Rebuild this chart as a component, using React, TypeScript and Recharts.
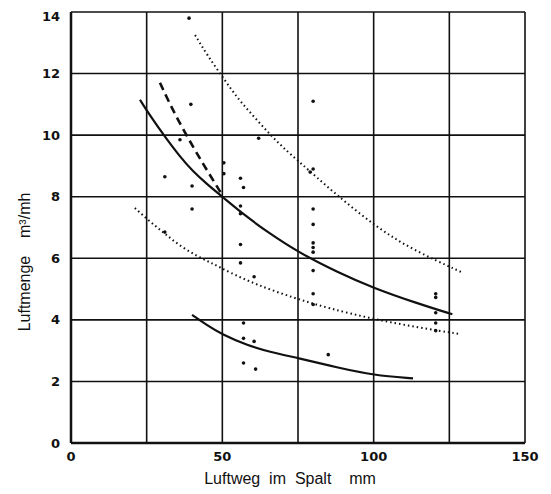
import React from "react";
import {
  ComposedChart,
  Line,
  Scatter,
  XAxis,
  YAxis,
  CartesianGrid,
  Label,
} from "recharts";

// curves (x = Luftweg mm, y = Luftmenge m3/mh)
const upperSolid = [
  { x: 22.8, y: 11.15 }, { x: 26, y: 10.65 }, { x: 31, y: 9.95 }, { x: 36, y: 9.3 },
  { x: 40, y: 8.85 }, { x: 45, y: 8.4 }, { x: 50, y: 8.0 }, { x: 58, y: 7.35 },
  { x: 65, y: 6.85 }, { x: 75, y: 6.2 }, { x: 88, y: 5.55 }, { x: 100, y: 5.03 },
  { x: 114, y: 4.55 }, { x: 126, y: 4.18 },
];
const dashed = [
  { x: 29.4, y: 11.7 }, { x: 32, y: 11.15 }, { x: 35.3, y: 10.5 },
  { x: 41, y: 9.5 }, { x: 45.3, y: 8.8 }, { x: 50, y: 8.05 },
];
const upperDotted = [
  { x: 41, y: 13.25 }, { x: 45, y: 12.6 }, { x: 50, y: 11.9 }, { x: 55, y: 11.2 },
  { x: 60, y: 10.65 }, { x: 65, y: 10.1 }, { x: 70, y: 9.6 }, { x: 75.6, y: 9.12 },
  { x: 86.6, y: 8.15 }, { x: 101, y: 7.0 }, { x: 113, y: 6.27 }, { x: 129, y: 5.55 },
];
const lowerDotted = [
  { x: 21.1, y: 7.63 }, { x: 26, y: 7.2 }, { x: 31, y: 6.8 }, { x: 36, y: 6.4 },
  { x: 42, y: 6.05 }, { x: 47, y: 5.82 }, { x: 52, y: 5.56 }, { x: 61, y: 5.15 },
  { x: 74, y: 4.7 }, { x: 85, y: 4.38 }, { x: 100, y: 4.02 }, { x: 115, y: 3.75 },
  { x: 128.5, y: 3.54 },
];
const lowerSolid = [
  { x: 40, y: 4.16 }, { x: 45, y: 3.82 }, { x: 50, y: 3.52 }, { x: 58, y: 3.18 },
  { x: 66, y: 2.95 }, { x: 75, y: 2.76 }, { x: 88, y: 2.45 }, { x: 100, y: 2.2 },
  { x: 113, y: 2.1 },
];

// measured points
const measured = [
  { x: 39, y: 13.8 }, { x: 39.6, y: 11.0 }, { x: 36, y: 9.85 }, { x: 31, y: 8.65 },
  { x: 40, y: 8.35 }, { x: 40, y: 7.6 }, { x: 31, y: 6.85 }, { x: 50.5, y: 9.1 },
  { x: 50.5, y: 8.75 }, { x: 56, y: 8.6 }, { x: 57, y: 8.3 }, { x: 56, y: 7.7 },
  { x: 56, y: 7.45 }, { x: 56, y: 6.45 }, { x: 62, y: 9.9 }, { x: 56, y: 5.85 },
  { x: 60.5, y: 5.4 }, { x: 57, y: 3.9 }, { x: 60.5, y: 3.3 }, { x: 57, y: 3.4 },
  { x: 57, y: 2.6 }, { x: 61, y: 2.4 }, { x: 80, y: 11.1 }, { x: 80, y: 8.9 },
  { x: 79, y: 8.8 }, { x: 80, y: 7.6 }, { x: 80, y: 7.1 }, { x: 80, y: 6.5 },
  { x: 80, y: 6.35 }, { x: 80, y: 6.2 }, { x: 80, y: 5.6 }, { x: 80, y: 4.85 },
  { x: 80, y: 4.5 }, { x: 85, y: 2.87 }, { x: 120.5, y: 4.85 }, { x: 120.5, y: 4.73 },
  { x: 120.5, y: 4.23 }, { x: 120.5, y: 3.9 }, { x: 120.5, y: 3.65 },
];

const xTicks = [0, 25, 50, 75, 100, 125, 150];
const xLabels = [0, 50, 100, 150];
const yTicks = [0, 2, 4, 6, 8, 10, 12, 14];

const INK = "#111";
const font = "'DejaVu Sans', sans-serif";
const titleFont = "'Liberation Sans', sans-serif";

function App() {
  return (
    <ComposedChart
      width={535}
      height={486}
      margin={{ top: 4, right: 18, left: 0, bottom: 0 }}
      style={{ background: "#fff" }}
    >
      <CartesianGrid stroke={INK} strokeWidth={1.6} />
      <XAxis
        type="number"
        dataKey="x"
        domain={[0, 150]}
        ticks={xTicks}
        height={51}
        tickSize={0}
        tickMargin={9}
        axisLine={{ stroke: INK, strokeWidth: 2.5 }}
        tickFormatter={(v) => (xLabels.includes(v) ? String(v) : "")}
        tick={{ fill: INK, fontSize: 13, fontWeight: "bold", fontFamily: font }}
      >
        <Label
          content={() => (
            <text
              x={282}
              y={476}
              textAnchor="middle"
              fill={INK}
              fontSize={16}
              fontFamily={titleFont}
              style={{ whiteSpace: "pre" }}
            >
              {"Luftweg  im  Spalt    mm"}
            </text>
          )}
        />
      </XAxis>
      <YAxis
        type="number"
        domain={[0, 14]}
        ticks={yTicks}
        width={63}
        tickSize={0}
        tickMargin={11}
        axisLine={{ stroke: INK, strokeWidth: 2.5 }}
        tick={{ fill: INK, fontSize: 13, fontWeight: "bold", fontFamily: font }}
      >
        <Label
          content={() => (
            <text
              x={22}
              y={254}
              transform="rotate(-90 22 254)"
              textAnchor="middle"
              fill={INK}
              fontSize={16}
              fontFamily={titleFont}
              style={{ whiteSpace: "pre" }}
            >
              {"Luftmenge    m³/mh"}
            </text>
          )}
        />
      </YAxis>
      <Line
        data={upperSolid}
        dataKey="y"
        type="basis"
        stroke={INK}
        strokeWidth={2.2}
        dot={false}
        isAnimationActive={false}
      />
      <Line
        data={dashed}
        dataKey="y"
        type="basis"
        stroke={INK}
        strokeWidth={2.6}
        strokeDasharray="8 5"
        dot={false}
        isAnimationActive={false}
      />
      <Line
        data={upperDotted}
        dataKey="y"
        type="basis"
        stroke={INK}
        strokeWidth={2}
        strokeDasharray="1.5 3"
        dot={false}
        isAnimationActive={false}
      />
      <Line
        data={lowerDotted}
        dataKey="y"
        type="basis"
        stroke={INK}
        strokeWidth={2}
        strokeDasharray="1.5 3"
        dot={false}
        isAnimationActive={false}
      />
      <Line
        data={lowerSolid}
        dataKey="y"
        type="basis"
        stroke={INK}
        strokeWidth={2.2}
        dot={false}
        isAnimationActive={false}
      />
      <Scatter
        data={measured}
        dataKey="y"
        fill={INK}
        shape={(p: any) => <circle cx={p.cx} cy={p.cy} r={1.8} fill={INK} />}
        isAnimationActive={false}
      />
    </ComposedChart>
  );
}

export default App;
